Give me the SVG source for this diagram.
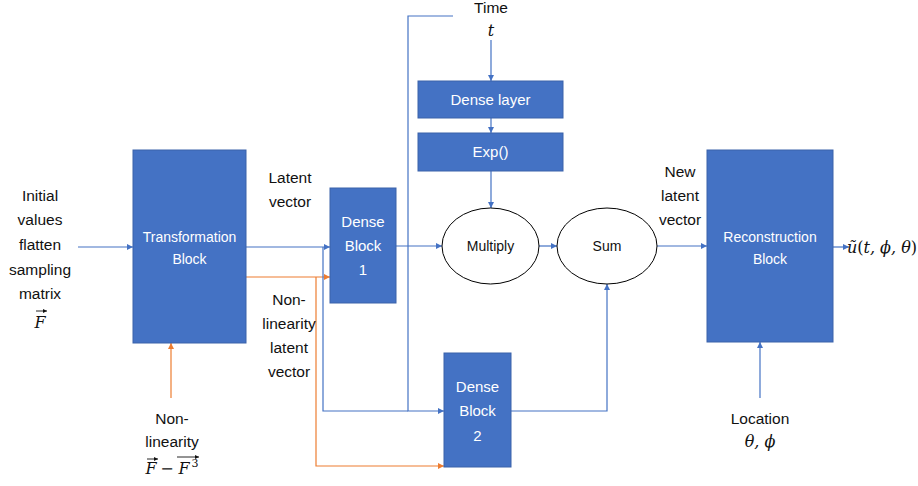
<svg xmlns="http://www.w3.org/2000/svg" width="918" height="486" viewBox="0 0 918 486">
<defs>
<marker id="ab" viewBox="0 0 10 10" refX="10" refY="5" markerWidth="6" markerHeight="6" orient="auto" markerUnits="userSpaceOnUse"><path d="M0,0 L10,5 L0,10 z" fill="#4472C4"/></marker>
<marker id="ao" viewBox="0 0 10 10" refX="10" refY="5" markerWidth="6" markerHeight="6" orient="auto" markerUnits="userSpaceOnUse"><path d="M0,0 L10,5 L0,10 z" fill="#ED7D31"/></marker>
<marker id="ak" viewBox="0 0 10 10" refX="10" refY="5" markerWidth="4" markerHeight="4" orient="auto" markerUnits="userSpaceOnUse"><path d="M0,0 L10,5 L0,10 z" fill="#111"/></marker>
</defs>
<style>
.box{fill:#4472C4;stroke:#3A62AA;stroke-width:1}
.ell{fill:#fff;stroke:#000;stroke-width:1}
.bt{font-family:"Liberation Sans",Arial,sans-serif;font-size:14px;fill:#fff;text-anchor:middle}
.lt{font-family:"Liberation Sans",Arial,sans-serif;font-size:15.5px;fill:#111;text-anchor:middle}
.et{font-family:"Liberation Sans",Arial,sans-serif;font-size:14px;fill:#111;text-anchor:middle}
.mt{font-family:"DejaVu Serif","Liberation Serif",serif;font-style:italic;font-size:16px;fill:#111;text-anchor:middle}
.mu{font-family:"DejaVu Serif","Liberation Serif",serif;font-size:16px;fill:#111;text-anchor:middle}
.b{fill:none;stroke:#4472C4;stroke-width:1.2}
.o{fill:none;stroke:#ED7D31;stroke-width:1.2}
.ba{marker-end:url(#ab)}
.oa{marker-end:url(#ao)}
.acc{fill:none;stroke:#111;stroke-width:0.9;marker-end:url(#ak)}
</style>
<rect width="918" height="486" fill="#fff"/>

<g id="connectors">
<path class="b ba" d="M78,247 H133"/>
<path class="b ba" d="M246,247 H330"/>
<path class="o oa" d="M246,277 H330"/>
<path class="o oa" d="M316,277 V466 H444"/>
<path class="b" d="M323,247 V411 H408"/>
<path class="b ba" d="M453,16 H408 V411 H444"/>
<path class="b ba" d="M491,40 V81"/>
<path class="b ba" d="M491,118 V133"/>
<path class="b ba" d="M491,171 V208"/>
<path class="b ba" d="M396,246 H442"/>
<path class="b ba" d="M539,246 H557"/>
<path class="b ba" d="M657,246 H707"/>
<path class="b ba" d="M511,411 H607 V284"/>
<path class="b ba" d="M833,247 H849"/>
<path class="b ba" d="M760,398 V342"/>
<path class="o oa" d="M171,398 V343"/>
</g>

<g id="transformation">
<rect class="box" x="133" y="150" width="113" height="193"/>
<text class="bt" x="189.5" y="242">Transformation</text>
<text class="bt" x="189.5" y="264">Block</text>
</g>
<g id="dense1">
<rect class="box" x="330" y="188" width="66" height="115"/>
<text class="bt" x="363" y="227" style="font-size:15px">Dense</text>
<text class="bt" x="363" y="251" style="font-size:15px">Block</text>
<text class="bt" x="363" y="275" style="font-size:15px">1</text>
</g>
<g id="denselayer">
<rect class="box" x="418" y="81" width="145" height="37"/>
<text class="bt" x="490.5" y="105" style="font-size:15px">Dense layer</text>
</g>
<g id="exp">
<rect class="box" x="418" y="133" width="145" height="38"/>
<text class="bt" x="490.5" y="157" style="font-size:15px">Exp()</text>
</g>
<g id="multiply">
<ellipse class="ell" cx="490.5" cy="246" rx="48.5" ry="38"/>
<text class="et" x="490.5" y="251">Multiply</text>
</g>
<g id="sum">
<ellipse class="ell" cx="607" cy="246" rx="50" ry="38"/>
<text class="et" x="607" y="251">Sum</text>
</g>
<g id="dense2">
<rect class="box" x="444" y="353" width="67" height="114"/>
<text class="bt" x="477.5" y="392" style="font-size:15px">Dense</text>
<text class="bt" x="477.5" y="416" style="font-size:15px">Block</text>
<text class="bt" x="477.5" y="441" style="font-size:15px">2</text>
</g>
<g id="reconstruction">
<rect class="box" x="707" y="150" width="126" height="192"/>
<text class="bt" x="770" y="242">Reconstruction</text>
<text class="bt" x="770" y="264">Block</text>
</g>

<g id="labels">
<text class="lt" x="40" y="201">Initial</text>
<text class="lt" x="40" y="225">values</text>
<text class="lt" x="40" y="250">flatten</text>
<text class="lt" x="40" y="275">sampling</text>
<text class="lt" x="40" y="299">matrix</text>
<text class="mt" x="40" y="328">F</text>
<path class="acc" d="M36,311 H47"/>
<text class="lt" x="290" y="183">Latent</text>
<text class="lt" x="290" y="207">vector</text>
<text class="lt" x="289" y="305">Non-</text>
<text class="lt" x="289" y="329">linearity</text>
<text class="lt" x="289" y="353">latent</text>
<text class="lt" x="289" y="377">vector</text>
<text class="lt" x="491" y="13">Time</text>
<text class="mt" x="491" y="36">t</text>
<text class="lt" x="680" y="177">New</text>
<text class="lt" x="680" y="201">latent</text>
<text class="lt" x="680" y="225">vector</text>
<text class="mt" x="882" y="253">ũ<tspan font-style="normal">(</tspan>t, ϕ, θ<tspan font-style="normal">)</tspan></text>
<text class="lt" x="760" y="424">Location</text>
<text class="mt" x="760" y="447">θ, ϕ</text>
<text class="lt" x="172" y="424">Non-</text>
<text class="lt" x="172" y="447">linearity</text>
<text class="mt" x="151" y="474">F</text>
<text class="mu" x="167" y="474">−</text>
<text class="mt" x="184" y="474">F</text>
<text class="mu" x="195" y="467" style="font-size:11px">3</text>
<path class="acc" d="M147,459 H158"/>
<path class="acc" d="M177,457 H199"/>
</g>
</svg>
